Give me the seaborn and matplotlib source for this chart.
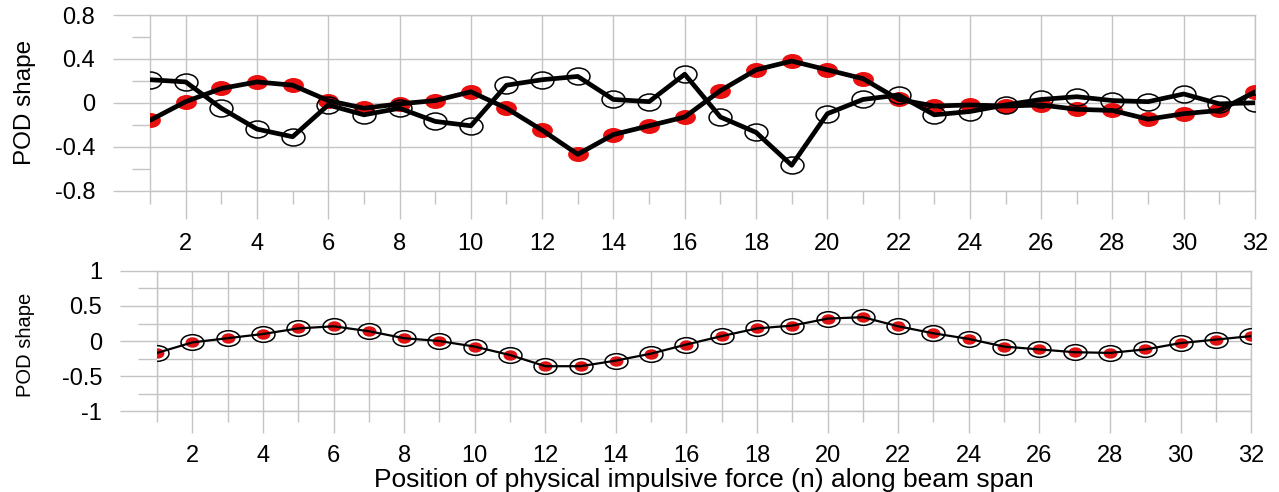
import numpy as np
import matplotlib
matplotlib.use("Agg")
import matplotlib.pyplot as plt
import seaborn as sns
from matplotlib.path import Path
from matplotlib.transforms import Affine2D

# POD shapes
positions = list(range(1, 33))

top_hollow = [0.21, 0.19, -0.05, -0.24, -0.31, -0.02, -0.11, -0.05, -0.17, -0.21,
              0.16, 0.21, 0.24, 0.03, 0.01, 0.26, -0.13, -0.27, -0.57, -0.10,
              0.03, 0.07, -0.11, -0.08, -0.02, 0.03, 0.055, 0.02, 0.01, 0.08,
              -0.01, 0.0]
top_red = [-0.16, 0.01, 0.13, 0.19, 0.16, 0.02, -0.05, -0.01, 0.02, 0.10,
           -0.05, -0.25, -0.47, -0.29, -0.21, -0.13, 0.11, 0.30, 0.38, 0.30,
           0.22, 0.03, -0.03, -0.02, -0.03, -0.02, -0.06, -0.07, -0.15, -0.10,
           -0.07, 0.10]
bottom_mode = [-0.17, -0.02, 0.04, 0.10, 0.18, 0.21, 0.14, 0.04, 0.0, -0.08,
               -0.20, -0.36, -0.36, -0.28, -0.18, -0.05, 0.07, 0.18, 0.22, 0.32,
               0.34, 0.21, 0.11, 0.03, -0.08, -0.12, -0.16, -0.17, -0.12, -0.03,
               0.02, 0.07]

top_yticks = [-0.8, -0.4, 0, 0.4, 0.8]
top_ylabels = ["-0.8", "-0.4", "0", "0.4", "0.8"]
bottom_yticks = [-1, -0.5, 0, 0.5, 1]
bottom_ylabels = ["-1", "-0.5", "0", "0.5", "1"]

sns.set_style("white")
plt.rcParams["font.family"] = ["Liberation Sans", "DejaVu Sans"]
plt.rcParams["text.color"] = "black"
plt.rcParams["axes.labelcolor"] = "black"
plt.rcParams["xtick.color"] = "black"
plt.rcParams["ytick.color"] = "black"

grid_c = "#c4c4c4"
red = "#ea1010"


def ellipse(aspect):
    return Path.unit_circle().transformed(Affine2D().scale(1.0, aspect))


fig = plt.figure(figsize=(12.79, 4.92), dpi=100)
ax1 = fig.add_axes([0.1173, 0.6128, 0.8640, 0.3567])
ax2 = fig.add_axes([0.1228, 0.1646, 0.8554, 0.2846])

# ---- top panel
sns.lineplot(x=positions, y=top_red, ax=ax1, linestyle="", marker=ellipse(0.72),
             ms=15, mfc=red, mec=red, mew=0, zorder=3)
sns.lineplot(x=positions, y=top_hollow, ax=ax1, linestyle="", marker=ellipse(0.74),
             ms=16.5, mfc="none", mec="black", mew=1.1, zorder=3)
sns.lineplot(x=positions, y=top_red, ax=ax1, color="black", lw=3.4,
             solid_joinstyle="round", zorder=4)
sns.lineplot(x=positions, y=top_hollow, ax=ax1, color="black", lw=3.4,
             solid_joinstyle="round", zorder=4)

ax1.set_xlim(1, 32)
ax1.set_ylim(-0.8, 0.8)
ax1.set_xticks(range(2, 33, 2))
ax1.set_xticks(range(1, 33, 2), minor=True)
ax1.set_yticks(top_yticks)
ax1.set_yticklabels(top_ylabels)
ax1.set_yticks([-0.6, -0.2, 0.2, 0.6], minor=True)
ax1.grid(True, which="major", color=grid_c, lw=1)
ax1.tick_params(axis="x", which="major", length=19.8, width=1, color=grid_c,
                direction="out", pad=11, labelsize=17, bottom=True)
ax1.tick_params(axis="x", which="minor", length=9, width=1, color=grid_c,
                direction="out", bottom=True)
ax1.tick_params(axis="y", which="major", length=26.6, width=1, color=grid_c,
                direction="out", pad=13, labelsize=17, left=True)
ax1.tick_params(axis="y", which="minor", length=13, width=1, color=grid_c,
                direction="out", left=True)
ax1.set_ylabel("POD shape", fontsize=17.5)
ax1.yaxis.set_label_coords(-0.103, 0.5)
ax1.set_xlabel("")

# ---- bottom panel
sns.lineplot(x=positions, y=bottom_mode, ax=ax2, linestyle="", marker=ellipse(0.68),
             ms=16.5, mfc="white", mec="black", mew=1.1, zorder=3)
sns.lineplot(x=positions, y=bottom_mode, ax=ax2, linestyle="", marker=ellipse(0.75),
             ms=10, mfc="#dd1111", mec="#dd1111", mew=0, zorder=3)
sns.lineplot(x=positions, y=bottom_mode, ax=ax2, color="black", lw=1.6, zorder=4)

ax2.set_xlim(1, 32)
ax2.set_ylim(-1, 1)
ax2.set_xticks(range(2, 33, 2))
ax2.set_xticks(range(1, 33, 2), minor=True)
ax2.set_yticks(bottom_yticks)
ax2.set_yticklabels(bottom_ylabels)
ax2.set_yticks([-0.75, -0.25, 0.25, 0.75], minor=True)
ax2.grid(True, which="both", color=grid_c, lw=1)
ax2.tick_params(axis="x", which="major", length=15.8, width=1, color=grid_c,
                direction="out", pad=9, labelsize=17, bottom=True)
ax2.tick_params(axis="x", which="minor", length=7.9, width=1, color=grid_c,
                direction="out", bottom=True)
ax2.tick_params(axis="y", which="major", length=26.6, width=1, color=grid_c,
                direction="out", pad=13, labelsize=17, left=True)
ax2.tick_params(axis="y", which="minor", length=13.7, width=1, color=grid_c,
                direction="out", left=True)
ax2.set_ylabel("POD shape", fontsize=14.5)
ax2.yaxis.set_label_coords(-0.1115, 0.47)
ax2.set_xlabel("Position of physical impulsive force (n) along beam span", fontsize=19)
ax2.xaxis.set_label_coords(0.5, -0.405)

for ax in (ax1, ax2):
    ax.set_axisbelow(True)
    for sp in ax.spines.values():
        sp.set_color(grid_c)
        sp.set_linewidth(1)

fig.savefig("out.png", dpi=100)
